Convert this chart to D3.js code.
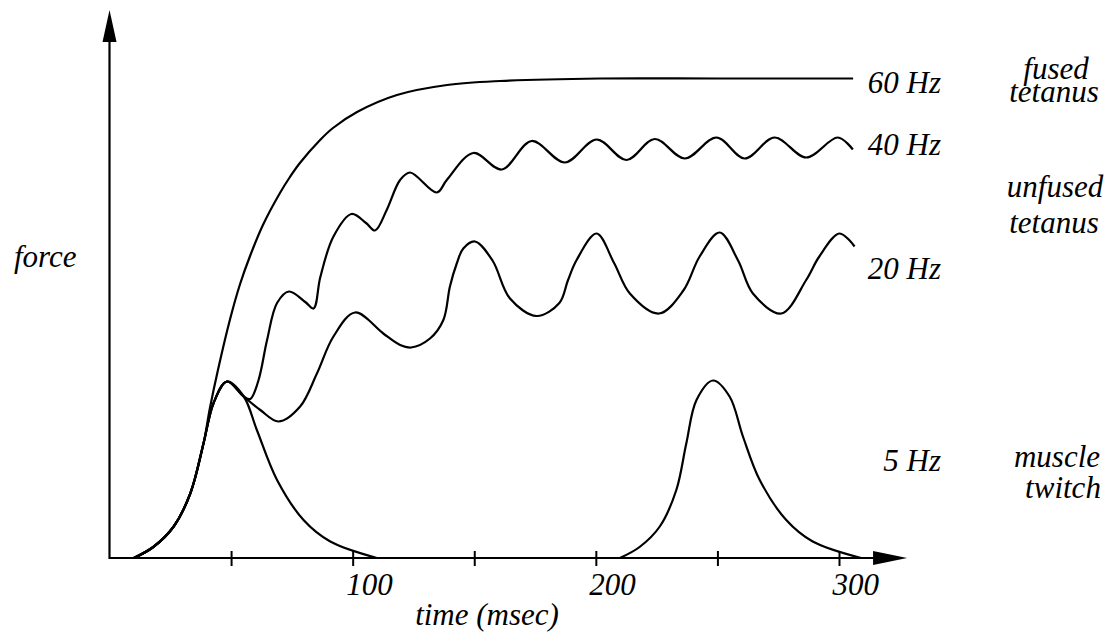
<!DOCTYPE html>
<html>
<head>
<meta charset="utf-8">
<script src="https://cdn.jsdelivr.net/npm/d3@7"></script>
<style>
  html, body { margin: 0; padding: 0; background: #fff; }
</style>
</head>
<body>
<svg id="chart" width="1116" height="635"></svg>
<script>
// ---- data (time in ms, force in arbitrary units) ----
const xTicks = [50, 100, 150, 200, 250, 300];
const xTickLabels = ["", "100", "", "200", "", "300"];

const twitch5Hz_a = [[10,0],[18,2.2],[26.4,6.3],[33.3,13],[38.7,23],[42.8,31],[48.3,35.3],[55.2,32.3],[60.6,25.6],[68.9,15.6],[79.8,7.6],[90.8,3.3],[110,0]];
const twitch5Hz_b = [[209.9,0],[218,2.2],[226.3,6.3],[233.1,13.6],[237.2,22.9],[241.4,31.6],[248.2,35.5],[255.0,32.3],[260.5,24.3],[267.4,15.6],[278.3,7.6],[289.2,3.3],[309.1,0]];

const tetanus60Hz = [[10,0],[18,2.2],[26.4,6.3],[33.3,13],[38.7,23],[41.3,30.0],[44.6,37.6],[49.6,47.8],[53.7,54.8],[57.8,60.4],[63.1,66.6],[70.1,73.0],[74.2,76.2],[78.3,79.0],[86.6,83.6],[91.9,86.0],[101.8,89.2],[118.2,92.6],[138.8,94.6],[160.6,95.4],[201.7,95.9],[250,95.9],[305.8,95.9]];

const tetanus40Hz = [[10,0],[18,2.2],[26.4,6.3],[33.3,13],[38.7,23],[42.8,31],[48.3,35.3],[55.2,32.3],[57.9,31.8],[61.3,35.6],[64.8,43.6],[68.9,51],[73.8,53.3],[80.5,51.2],[83.9,49.9],[86.7,56.2],[92.1,64.3],[99.5,68.8],[105.5,67],[109.2,65.5],[114.0,69.6],[119.5,75.6],[123.6,77.1],[134.6,73.1],[138.7,75.6],[149.6,81.0],[161.3,77.7],[173.6,83.4],[187.3,79.1],[200.3,83.7],[212.6,79.6],[224.2,83.8],[236.6,79.9],[249.6,84.1],[261.2,79.9],[273.5,84.1],[286.5,80.1],[299.5,84.1],[305.7,81.7]];

const tetanus20Hz = [[10,0],[18,2.2],[26.4,6.3],[33.3,13],[38.7,23],[42.8,31],[48.3,35.3],[55.2,32.3],[62,29.6],[69.5,27.3],[78.4,30.3],[85.3,36.9],[92.1,44.3],[101,49.1],[112.6,44.9],[119.5,42.6],[124,42.1],[131.8,43.9],[137.3,47.6],[140,54.3],[142.8,58.9],[145.5,61.9],[150.3,63.3],[157.5,59.5],[164.7,51.9],[175.6,48.4],[185,51],[188.5,55.5],[192.1,59.6],[200.3,64.9],[207.5,59],[214,52.9],[226,48.9],[236,53.5],[242.7,60.3],[250.9,65.1],[258.5,59.5],[264.6,52.9],[276.3,48.9],[286.5,55.6],[291.9,60.3],[300.2,64.9],[306.4,62.3]];

const seriesLabels = ["60 Hz", "40 Hz", "20 Hz", "5 Hz"];
const seriesLabelForce = [93.1, 80.6, 55.9, 17.5];
const descLines = [
  {text: "fused",   dx: 1056, y: 79},
  {text: "tetanus", dx: 1054, y: 102},
  {text: "unfused", dx: 1055, y: 197},
  {text: "tetanus", dx: 1054, y: 233},
  {text: "muscle",  dx: 1057, y: 467},
  {text: "twitch",  dx: 1063, y: 498}
];
const xTitle = "time (msec)";
const yTitle = "force";

// ---- layout ----
const svg = d3.select("#chart");
const x = d3.scaleLinear().domain([0, 300]).range([109.5, 839]);
const y = d3.scaleLinear().domain([0, 100]).range([558, 58]);
const xAxisEnd = 328;
const yAxisEnd = 109.6;
const FS = 31;
const FONT = "Liberation Serif";

const axisG = svg.append("g");
axisG.append("line")
  .attr("x1", x(0)).attr("y1", y(0)).attr("x2", x(xAxisEnd) - 30).attr("y2", y(0))
  .attr("stroke", "#000").attr("stroke-width", 2.2);
axisG.append("line")
  .attr("x1", x(0)).attr("y1", y(0) + 1).attr("x2", x(0)).attr("y2", y(yAxisEnd) + 28)
  .attr("stroke", "#000").attr("stroke-width", 2.2);
const tx = x(xAxisEnd), ty = y(0);
axisG.append("path")
  .attr("d", `M${tx},${ty} L${tx - 34},${ty - 7} L${tx - 34},${ty + 7} Z`).attr("fill", "#000");
const ax = x(0), ay = y(yAxisEnd);
axisG.append("path")
  .attr("d", `M${ax},${ay} L${ax - 7},${ay + 32} L${ax + 7},${ay + 32} Z`).attr("fill", "#000");

const xAxis = d3.axisBottom(x)
  .tickValues(xTicks)
  .tickSizeInner(8)
  .tickSizeOuter(0)
  .tickFormat((d, i) => xTickLabels[i]);
const xg = svg.append("g").attr("transform", `translate(0,${y(0)})`).call(xAxis);
xg.attr("font-family", FONT).attr("font-size", FS).attr("font-style", "italic");
xg.select(".domain").remove();
xg.selectAll(".tick line").attr("y1", -7).attr("y2", 8).attr("stroke", "#000").attr("stroke-width", 2);
xg.selectAll(".tick text")
  .attr("fill", "#000")
  .attr("text-anchor", "start")
  .attr("x", -7)
  .attr("y", 37)
  .attr("dy", 0);

const line = d3.line()
  .x(d => x(d[0]))
  .y(d => y(d[1]))
  .curve(d3.curveCatmullRom.alpha(0.5));
const curves = [twitch5Hz_a, twitch5Hz_b, tetanus60Hz, tetanus40Hz, tetanus20Hz];
svg.append("g").selectAll("path").data(curves).join("path")
  .attr("d", line)
  .attr("fill", "none")
  .attr("stroke", "#000")
  .attr("stroke-width", 2.2)
  .attr("stroke-linejoin", "round");

const textG = svg.append("g")
  .attr("font-family", FONT).attr("font-style", "italic").attr("font-size", FS).attr("fill", "#000");

textG.selectAll("text.series").data(seriesLabels).join("text")
  .attr("class", "series")
  .attr("x", 941)
  .attr("y", (d, i) => y(seriesLabelForce[i]))
  .attr("text-anchor", "end")
  .text(d => d);

textG.selectAll("text.desc").data(descLines).join("text")
  .attr("class", "desc")
  .attr("x", d => d.dx)
  .attr("y", d => d.y)
  .attr("text-anchor", "middle")
  .text(d => d.text);

textG.append("text").attr("x", 487).attr("y", 625).attr("text-anchor", "middle").text(xTitle);
textG.append("text").attr("x", 14).attr("y", 267).attr("text-anchor", "start").text(yTitle);
</script>
</body>
</html>
